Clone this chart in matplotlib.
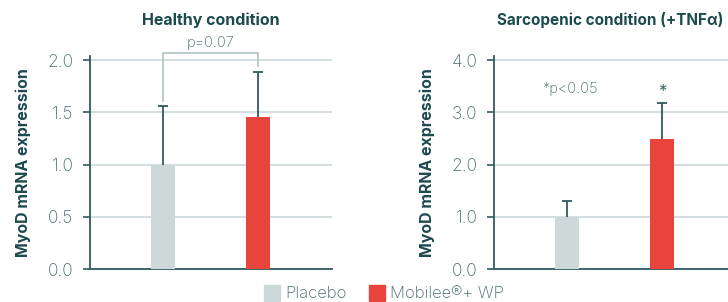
import matplotlib
matplotlib.use("Agg")
import matplotlib.pyplot as plt
from matplotlib.patches import Rectangle

# ---- data ----
groups = ["Placebo", "Mobilee\u00ae+ WP"]
healthy_mean = [1.00, 1.46]
healthy_err = [0.56, 0.43]
sarco_mean = [1.00, 2.49]
sarco_err = [0.31, 0.69]
healthy_ticks = [0.0, 0.5, 1.0, 1.5, 2.0]
sarco_ticks = [0.0, 1.0, 2.0, 3.0, 4.0]

# ---- style ----
plt.rcParams['font.family'] = ['Inter', 'DejaVu Sans']
colors = ["#cdd8d9", "#e8443b"]
dark = "#1d4a4f"
tick_col = "#456a6e"
grid_col = "#c8d5d7"
err_col = "#2f5a5e"

fig = plt.figure(figsize=(7.28, 3.02), dpi=100)
W, H = 728, 302


def make_ax(left_px, ymax, ticks, means, errs, title, title_x, title_fs):
    ax = fig.add_axes([left_px / W, 1 - 269 / H, 242 / W, (269 - 56) / H])
    xs = [0.30, 0.695]
    ax.bar(xs, means, width=0.1, color=colors, zorder=3)
    # upward-only error bars with a cap on top
    tops = [m + e for m, e in zip(means, errs)]
    ax.vlines(xs, means, tops, color=err_col, lw=1.3, zorder=4)
    ax.plot(xs, tops, ls="none", marker="_", ms=7, mew=1.3, color=err_col,
            zorder=4)
    ax.set_xlim(0, 1)
    ax.set_ylim(0, ymax)
    ax.set_yticks(ticks)
    ax.set_yticklabels([f"{t:.1f}" for t in ticks], fontsize=12.5,
                       color=tick_col, fontweight="light")
    ax.set_xticks([])
    ax.yaxis.grid(True, color=grid_col, lw=1.1, zorder=0)
    for s in ["top", "right"]:
        ax.spines[s].set_visible(False)
    for s in ["left", "bottom"]:
        ax.spines[s].set_color(err_col)
        ax.spines[s].set_linewidth(1.3)
    ax.tick_params(axis="y", length=5, width=1.2, color=err_col, pad=7)
    ax.set_ylabel("MyoD mRNA expression", fontsize=11.5, fontweight="bold",
                  color=dark, labelpad=12)
    fig.text(title_x / W, 1 - 20 / H, title, ha="center", va="center",
             fontsize=title_fs, fontweight="bold", color=dark)
    return ax, xs


ax1, xs1 = make_ax(90, 2.04, healthy_ticks, healthy_mean, healthy_err,
                   "Healthy condition", 211, 11.5)
ax2, xs2 = make_ax(494, 4.08, sarco_ticks, sarco_mean, sarco_err,
                   "Sarcopenic condition (+TNF\u03b1)", 610, 11.0)

# significance bracket (healthy)
top = 2.07
ax1.plot([xs1[0], xs1[0], xs1[1], xs1[1]],
         [healthy_mean[0] + healthy_err[0] + 0.05, top, top,
          healthy_mean[1] + healthy_err[1] + 0.05],
         color="#a9bcbf", lw=1.1, clip_on=False, zorder=5)
ax1.text(sum(xs1) / 2, top + 0.03, "p=0.07", ha="center", va="bottom",
         fontsize=10.5, color=tick_col, fontweight="light")

# significance marks (sarcopenic)
ax2.text(0.315, 3.45, "*p<0.05", ha="center", va="center", fontsize=10.5,
         color=tick_col, fontweight="light")
ax2.text(xs2[1], 3.4, "*", ha="center", va="center", fontsize=12,
         color=tick_col)

# legend
ly = 1 - 293 / H
fig.patches.append(Rectangle((264 / W, 1 - 301 / H), 16 / W, 16 / H,
                             transform=fig.transFigure, color=colors[0]))
fig.text(285 / W, ly, groups[0], ha="left", va="center", fontsize=12,
         color=tick_col, fontweight="light")
fig.patches.append(Rectangle((369 / W, 1 - 301 / H), 16 / W, 16 / H,
                             transform=fig.transFigure, color=colors[1]))
fig.text(390 / W, ly, groups[1], ha="left", va="center", fontsize=12,
         color=tick_col, fontweight="light")

fig.savefig("out.png", dpi=100)
